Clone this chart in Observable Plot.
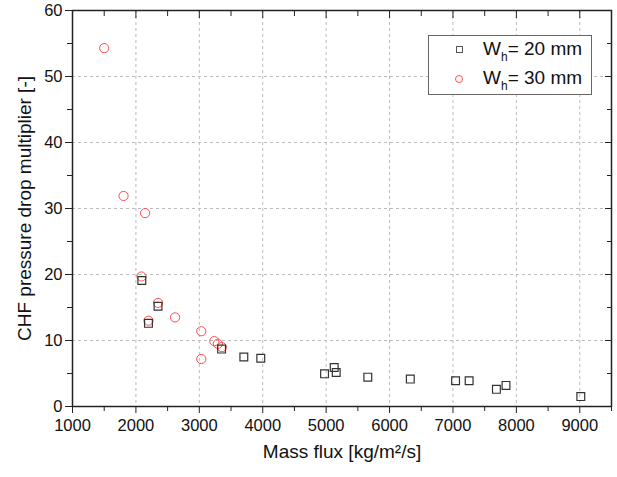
<!DOCTYPE html>
<html>
<head>
<meta charset="utf-8">
<script src="https://cdn.jsdelivr.net/npm/d3@7"></script>
<script src="https://cdn.jsdelivr.net/npm/@observablehq/plot@0.6"></script>
<style>
  body { margin: 0; background: #fff; }
  #wrap { position: relative; width: 617px; height: 477px; font-family: "Liberation Sans", Arial, sans-serif; }
  #legend { position: absolute; left: 428px; top: 35px; width: 164px; height: 60px; border: 1px solid #666; background: #fff; box-sizing: border-box; }
  .row { position: absolute; left: 0; font-size: 19px; color: #111; white-space: nowrap; }
  .row .t { position: absolute; left: 54px; top: -12px; }
  .row sub { font-size: 12px; vertical-align: -6px; line-height: 0; }
  .sym { position: absolute; left: 27px; width: 7px; height: 7px; box-sizing: border-box; top: -4px; }
</style>
</head>
<body>
<div id="wrap">
  <div id="chart"></div>
  <div id="legend">
    <div class="row" style="top:14px"><div class="sym" style="border:1.2px solid #555"></div><span class="t">W<sub>h</sub>= 20 mm</span></div>
    <div class="row" style="top:43px"><div class="sym" style="border:1px solid #ff4d4d;border-radius:50%;width:8px;height:8px;left:26px"></div><span class="t">W<sub>h</sub>= 30 mm</span></div>
  </div>
</div>
<script>
// W_h = 20 mm (squares)
const fluxW20 = [2093, 2198, 2349, 3351, 3702, 3969, 4975, 5127, 5159, 5657, 6327, 7041, 7255, 7685, 7836, 9016];
const multW20 = [19.1, 12.6, 15.2, 8.7, 7.5, 7.3, 4.95, 5.9, 5.15, 4.45, 4.15, 3.9, 3.9, 2.6, 3.2, 1.5];
// W_h = 30 mm (circles)
const fluxW30 = [1500, 1805, 2145, 2088, 2349, 2198, 2617, 3031, 3031, 3236, 3293, 3356];
const multW30 = [54.3, 31.9, 29.3, 19.7, 15.7, 13.0, 13.5, 11.4, 7.2, 9.9, 9.5, 9.0];

const xMajor = [1000, 2000, 3000, 4000, 5000, 6000, 7000, 8000, 9000];
const xMinor = [1500, 2500, 3500, 4500, 5500, 6500, 7500, 8500, 9500];
const yMajor = [0, 10, 20, 30, 40, 50, 60];
const yMinor = [5, 15, 25, 35, 45, 55];
const xGrid = [2000, 3000, 4000, 5000, 6000, 7000, 8000, 9000];
const yGrid = [10, 20, 30, 40, 50];

const d20 = fluxW20.map((x, i) => ({x, y: multW20[i]}));
const d30 = fluxW30.map((x, i) => ({x, y: multW30[i]}));
const blank = () => "";

const chart = Plot.plot({
  width: 617,
  height: 477,
  marginLeft: 72,
  marginRight: 6,
  marginTop: 10,
  marginBottom: 71,
  style: { fontFamily: "Liberation Sans, Arial, sans-serif", fontSize: "16px", color: "#111", background: "#fff" },
  x: { domain: [1000, 9500] },
  y: { domain: [0, 60] },
  marks: [
    Plot.gridX(xGrid, { stroke: "#bbb", strokeOpacity: 1, strokeDasharray: "3,3", strokeWidth: 1 }),
    Plot.gridY(yGrid, { stroke: "#bbb", strokeOpacity: 1, strokeDasharray: "3,3", strokeWidth: 1 }),
    Plot.dot(d30, { x: "x", y: "y", r: 4.6, stroke: "#ff4d4d", strokeWidth: 1, fill: "none" }),
    Plot.dot(d20, { x: "x", y: "y", symbol: "square", r: 4.4, stroke: "#333", strokeWidth: 1.2, fill: "none" }),
    Plot.frame({ stroke: "#222", strokeWidth: 1.5 }),
    Plot.axisX(xMajor, { anchor: "bottom", tickSize: 7, tickPadding: 6, label: null, tickFormat: d => String(d), stroke: "#222", fontSize: 16.5 }),
    Plot.axisX(xMinor, { anchor: "bottom", tickSize: 5, label: null, tickFormat: blank, stroke: "#222" }),
    Plot.axisX(xMajor, { anchor: "top", tickSize: -7, label: null, tickFormat: blank, stroke: "#222" }),
    Plot.axisX(xMinor, { anchor: "top", tickSize: -5, label: null, tickFormat: blank, stroke: "#222" }),
    Plot.axisY(yMajor, { anchor: "left", tickSize: 7, tickPadding: 3, label: null, tickFormat: d => String(d), stroke: "#222", fontSize: 16.5 }),
    Plot.axisY(yMinor, { anchor: "left", tickSize: 5, label: null, tickFormat: blank, stroke: "#222" }),
    Plot.axisY(yMajor, { anchor: "right", tickSize: -7, label: null, tickFormat: blank, stroke: "#222" }),
    Plot.axisY(yMinor, { anchor: "right", tickSize: -5, label: null, tickFormat: blank, stroke: "#222" }),
    Plot.text(["Mass flux [kg/m²/s]"], { frameAnchor: "bottom", dy: 45, fontSize: 19, lineAnchor: "middle", fill: "#111" }),
    Plot.text(["CHF pressure drop multiplier [-]"], { frameAnchor: "left", dx: -48, rotate: -90, fontSize: 19, lineAnchor: "middle", textAnchor: "middle", fill: "#111" })
  ]
});
document.getElementById("chart").appendChild(chart);
</script>
</body>
</html>
